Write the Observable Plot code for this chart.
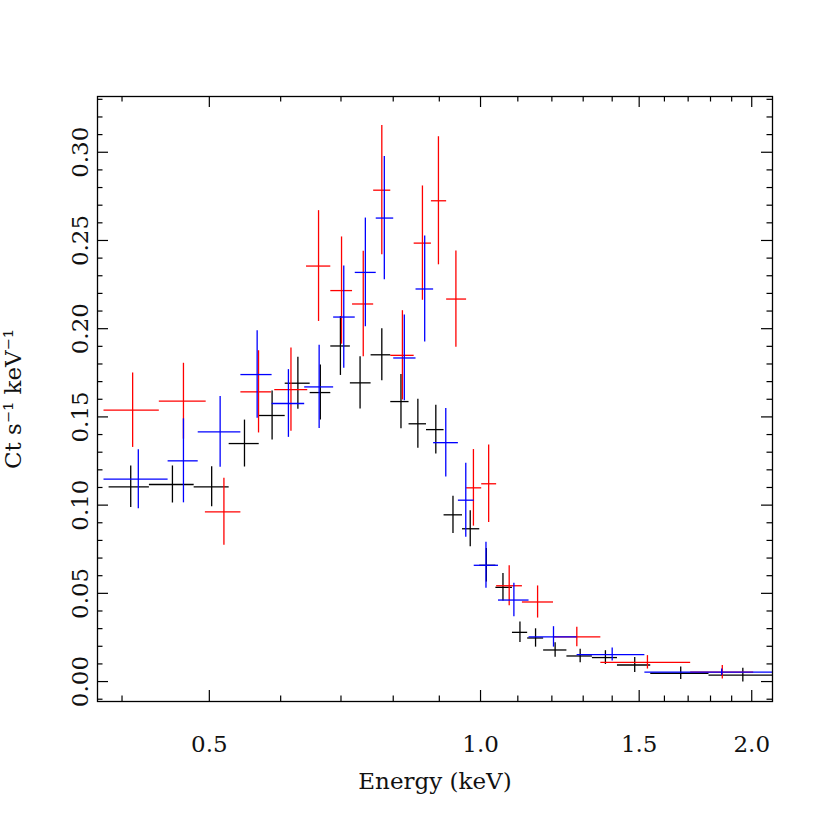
<!DOCTYPE html>
<html><head><meta charset="utf-8">
<script src="https://cdn.jsdelivr.net/npm/d3@7"></script>
<script src="https://cdn.jsdelivr.net/npm/@observablehq/plot@0.6"></script>
<style>html,body{margin:0;padding:0;background:#fff}</style>
</head><body><div id="chart"></div>
<script>
// Black data group
const blackE    = [0.409,0.455,0.503,0.547,0.587,0.627,0.664,0.699,0.735,0.777,0.816,0.852,0.892,0.932,0.974,1.015,1.059,1.106,1.151,1.210,1.290,1.376,1.483,1.668,1.955];
const blackLo   = [0.387,0.429,0.481,0.526,0.568,0.607,0.647,0.682,0.717,0.756,0.795,0.833,0.871,0.911,0.955,0.998,1.040,1.085,1.128,1.175,1.247,1.331,1.419,1.545,1.793];
const blackHi   = [0.429,0.481,0.526,0.568,0.607,0.647,0.682,0.717,0.756,0.795,0.833,0.871,0.911,0.955,0.998,1.040,1.085,1.128,1.175,1.247,1.331,1.419,1.545,1.793,2.13];
const blackRate = [0.1104,0.1117,0.1104,0.1349,0.1508,0.1691,0.1638,0.1902,0.1693,0.1852,0.1587,0.1461,0.1428,0.0945,0.0866,0.0659,0.0534,0.0279,0.0247,0.0179,0.0145,0.0136,0.0094,0.0047,0.0037];
const blackErr  = [0.0118,0.0105,0.0113,0.0133,0.0139,0.0147,0.0156,0.0167,0.0148,0.0147,0.0154,0.0139,0.0138,0.0106,0.0102,0.0095,0.0078,0.0058,0.0052,0.0041,0.0038,0.0039,0.0042,0.0035,0.0039];

// Red data group
const redE    = [0.411,0.468,0.519,0.567,0.616,0.661,0.701,0.741,0.777,0.819,0.862,0.898,0.939,0.982,1.021,1.076,1.157,1.279,1.532,1.855];
const redLo   = [0.382,0.440,0.495,0.542,0.591,0.641,0.682,0.721,0.761,0.795,0.844,0.882,0.917,0.965,1.003,1.042,1.113,1.205,1.360,1.711];
const redHi   = [0.440,0.496,0.542,0.586,0.643,0.682,0.721,0.761,0.795,0.844,0.882,0.917,0.965,1.003,1.042,1.113,1.205,1.360,1.711,2.01];
const redRate = [0.1538,0.1589,0.0962,0.1642,0.1655,0.2355,0.2216,0.2140,0.2785,0.1849,0.2485,0.2725,0.2168,0.1098,0.1121,0.0543,0.0451,0.0253,0.0109,0.0053];
const redErr  = [0.0211,0.0215,0.0190,0.0233,0.0236,0.0314,0.0304,0.0299,0.0366,0.0253,0.0324,0.0363,0.0273,0.0217,0.0220,0.0113,0.0091,0.0055,0.0038,0.0038];

// Blue data group
const blueE    = [0.417,0.468,0.514,0.565,0.612,0.662,0.705,0.745,0.782,0.823,0.867,0.915,0.963,1.014,1.089,1.205,1.400,1.852];
const blueLo   = [0.382,0.450,0.486,0.542,0.587,0.638,0.687,0.726,0.766,0.801,0.848,0.887,0.945,0.984,1.047,1.132,1.280,1.522];
const blueHi   = [0.450,0.486,0.542,0.587,0.638,0.687,0.726,0.766,0.801,0.848,0.887,0.945,0.984,1.047,1.132,1.280,1.522,2.25];
const blueRate = [0.1147,0.1251,0.1415,0.1740,0.1576,0.1670,0.2066,0.2319,0.2627,0.1834,0.2225,0.1354,0.1028,0.0659,0.0462,0.0253,0.0153,0.0053];
const blueErr  = [0.0167,0.0238,0.0201,0.0248,0.0192,0.0236,0.0290,0.0308,0.0349,0.0243,0.0300,0.0194,0.0210,0.0130,0.0095,0.0058,0.0037,0.0018];

// Axis ticks and labels
const xMajor = [0.5, 1.0, 1.5, 2.0];
const xMinor = [0.4, 0.6, 0.7, 0.8, 0.9, 1.1, 1.2, 1.3, 1.4, 1.6, 1.7, 1.8, 1.9];
const yMajor = [0.00, 0.05, 0.10, 0.15, 0.20, 0.25, 0.30];
const yMinor = [-0.01,0.01,0.02,0.03,0.04,0.06,0.07,0.08,0.09,0.11,0.12,0.13,0.14,0.16,0.17,0.18,0.19,0.21,0.22,0.23,0.24,0.26,0.27,0.28,0.29,0.31,0.32,0.33];
const xLabel = "Energy (keV)";
const yLabel = "Ct s\u207B\u00B9 keV\u207B\u00B9";
const xDomain = [0.3757, 2.109];
const yDomain = [-0.0113, 0.3316];

function table(E, lo, hi, rate, err) {
  return E.map((e, i) => ({e, lo: lo[i], hi: hi[i], rate: rate[i], y1: rate[i] - err[i], y2: rate[i] + err[i]}));
}
const groups = [
  {color: "#000000", data: table(blackE, blackLo, blackHi, blackRate, blackErr)},
  {color: "#ff0000", data: table(redE, redLo, redHi, redRate, redErr)},
  {color: "#0000ff", data: table(blueE, blueLo, blueHi, blueRate, blueErr)}
];

const W = 822, H = 822;
const mL = 97, mR = 50, mT = 96, mB = 121;
const fw = W - mL - mR, fh = H - mT - mB;
const majLen = 11, minLen = 5.5;
const font = "DejaVu Serif";
const tickStyle = {stroke: "#000", strokeWidth: 1.2};
const txt = {fontSize: 23, fontFamily: font, fill: "#111", textAnchor: "middle", lineAnchor: "middle"};

const marks = [];
for (const g of groups) {
  marks.push(Plot.ruleY(g.data, {y: "rate", x1: "lo", x2: "hi", stroke: g.color, strokeWidth: 1.3, clip: "frame"}));
  marks.push(Plot.ruleX(g.data, {x: "e", y1: "y1", y2: "y2", stroke: g.color, strokeWidth: 1.3, clip: "frame"}));
}
// inward ticks on all four sides
marks.push(
  Plot.tickX(xMajor, {x: d => d, insetTop: fh - majLen, ...tickStyle}),
  Plot.tickX(xMajor, {x: d => d, insetBottom: fh - majLen, ...tickStyle}),
  Plot.tickX(xMinor, {x: d => d, insetTop: fh - minLen, ...tickStyle}),
  Plot.tickX(xMinor, {x: d => d, insetBottom: fh - minLen, ...tickStyle}),
  Plot.tickY(yMajor, {y: d => d, insetRight: fw - majLen, ...tickStyle}),
  Plot.tickY(yMajor, {y: d => d, insetLeft: fw - majLen, ...tickStyle}),
  Plot.tickY(yMinor, {y: d => d, insetRight: fw - minLen, ...tickStyle}),
  Plot.tickY(yMinor, {y: d => d, insetLeft: fw - minLen, ...tickStyle}),
  Plot.frame({stroke: "#000", strokeWidth: 1.3}),
  Plot.text(xMajor, {x: d => d, text: d => d.toFixed(1), frameAnchor: "bottom", dy: 43, ...txt}),
  Plot.text(yMajor, {y: d => d, text: d => d.toFixed(2), frameAnchor: "left", dx: -17, rotate: -90, ...txt}),
  Plot.text([xLabel], {text: d => d, frameAnchor: "bottom", dy: 80, ...txt, letterSpacing: "1.5px"}),
  Plot.text([yLabel], {text: d => d, frameAnchor: "left", dx: -84, rotate: -90, ...txt, letterSpacing: "1px"})
);

const chart = Plot.plot({
  width: W, height: H,
  marginLeft: mL, marginRight: mR, marginTop: mT, marginBottom: mB,
  x: {type: "log", domain: xDomain, axis: null},
  y: {domain: yDomain, axis: null},
  style: {fontFamily: font, background: "#fff"},
  marks
});
document.getElementById("chart").appendChild(chart);
</script>
</body></html>
